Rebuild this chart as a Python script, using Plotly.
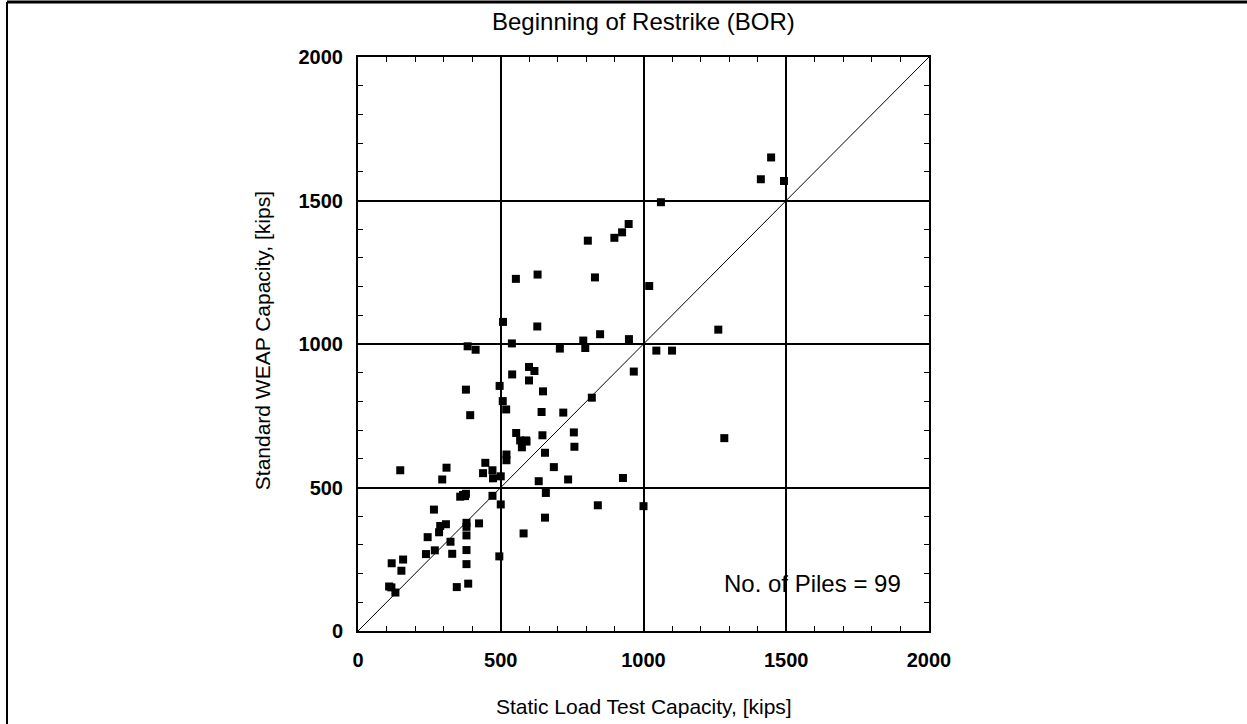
import plotly.graph_objects as go

# Static load test capacity [kips] (x) vs Standard WEAP capacity [kips] (y)
static_capacity = [
    1447, 1411, 1492, 1061, 948, 925, 898, 805, 553, 629, 830, 1020,
    508, 628, 1262, 848, 949, 539, 789, 796, 707, 1045, 1100, 384, 412,
    599, 618, 540, 599, 966, 496, 378, 648, 507, 819,
    519, 393, 643, 719,
    554, 646, 568, 589, 574, 756, 758, 1283, 655, 520, 520,
    446, 148, 310, 686, 471, 438, 295, 473, 500, 633, 736, 928,
    658, 358, 368, 378, 375, 471, 500, 266, 655, 840, 1000,
    288, 308, 284, 380, 380, 424, 580, 244, 380, 324,
    269, 238, 330, 380, 495, 118, 158, 152, 380, 109, 117, 131, 346, 386,
    590,
]
weap_capacity = [
    1650, 1574, 1568, 1494, 1418, 1389, 1370, 1360, 1227, 1242, 1232, 1202,
    1077, 1061, 1050, 1034, 1017, 1002, 1012, 986, 984, 977, 977, 992, 980,
    920, 906, 894, 873, 904, 854, 841, 835, 801, 813,
    772, 752, 763, 761,
    690, 682, 664, 664, 640, 692, 642, 672, 621, 615, 595,
    586, 560, 569, 571, 560, 550, 528, 532, 539, 522, 528, 533,
    481, 468, 474, 478, 470, 471, 441, 423, 395, 438, 435,
    366, 372, 344, 377, 363, 375, 340, 327, 333, 311,
    281, 268, 269, 282, 260, 236, 249, 210, 233, 155, 152, 134, 153, 165,
    660,
]
equality_line = [0, 2000]
tick_values = [0, 500, 1000, 1500, 2000]
tick_labels = ["0", "500", "1000", "1500", "2000"]

FONT = "Liberation Sans, Arial, sans-serif"

fig = go.Figure()
fig.add_trace(go.Scatter(x=equality_line, y=equality_line, mode="lines",
                         line=dict(color="black", width=1), hoverinfo="skip",
                         showlegend=False))
fig.add_trace(go.Scatter(x=static_capacity, y=weap_capacity, mode="markers",
                         marker=dict(symbol="square", size=8, color="black"),
                         showlegend=False))

axis_common = dict(
    range=[0, 2000], tickmode="array", tickvals=tick_values, ticktext=tick_labels,
    showgrid=True, gridcolor="black", gridwidth=1.5,
    showline=True, linecolor="black", linewidth=2, mirror="ticks",
    ticks="inside", ticklen=6, tickcolor="black", tickwidth=1,
    minor=dict(dtick=100, tick0=0, ticks="inside", ticklen=5, tickcolor="black",
               tickwidth=1, showgrid=False),
    tickfont=dict(family=FONT, size=20, color="black", weight="bold"),
    zeroline=False, fixedrange=True,
)
fig.update_xaxes(**axis_common, ticklabelstandoff=10)
fig.update_yaxes(**axis_common, ticklabelstandoff=9)

fig.add_annotation(text="Beginning of Restrike (BOR)", xref="paper", yref="paper",
                   x=0.5, y=1.0627, showarrow=False, xanchor="center", yanchor="middle",
                   font=dict(family=FONT, size=24, color="black"))
fig.add_annotation(text="Static Load Test Capacity, [kips]", xref="paper", yref="paper",
                   x=0.5, y=-0.1324, showarrow=False, xanchor="center", yanchor="middle",
                   font=dict(family=FONT, size=21, color="black"))
fig.add_annotation(text="Standard WEAP Capacity, [kips]", xref="paper", yref="paper",
                   x=-0.168, y=0.505, showarrow=False, textangle=-90,
                   xanchor="center", yanchor="middle",
                   font=dict(family=FONT, size=21, color="black"))
fig.add_annotation(text="No. of Piles = 99", xref="x", yref="y",
                   x=1908, y=164, xanchor="right", yanchor="middle", showarrow=False,
                   font=dict(family=FONT, size=24, color="black"))

# outer page frame (top and left edges)
fig.add_shape(type="line", xref="paper", yref="paper", x0=-0.6147, x1=1.56,
              y0=1.0958, y1=1.0958, line=dict(color="black", width=3))
fig.add_shape(type="line", xref="paper", yref="paper", x0=-0.6147, x1=-0.6147,
              y0=1.0958, y1=-0.17, line=dict(color="black", width=2))

fig.update_layout(
    width=1247, height=724,
    margin=dict(l=358, r=318, t=57, b=93),
    paper_bgcolor="white", plot_bgcolor="white",
    showlegend=False,
)

fig.write_html("out.html")
